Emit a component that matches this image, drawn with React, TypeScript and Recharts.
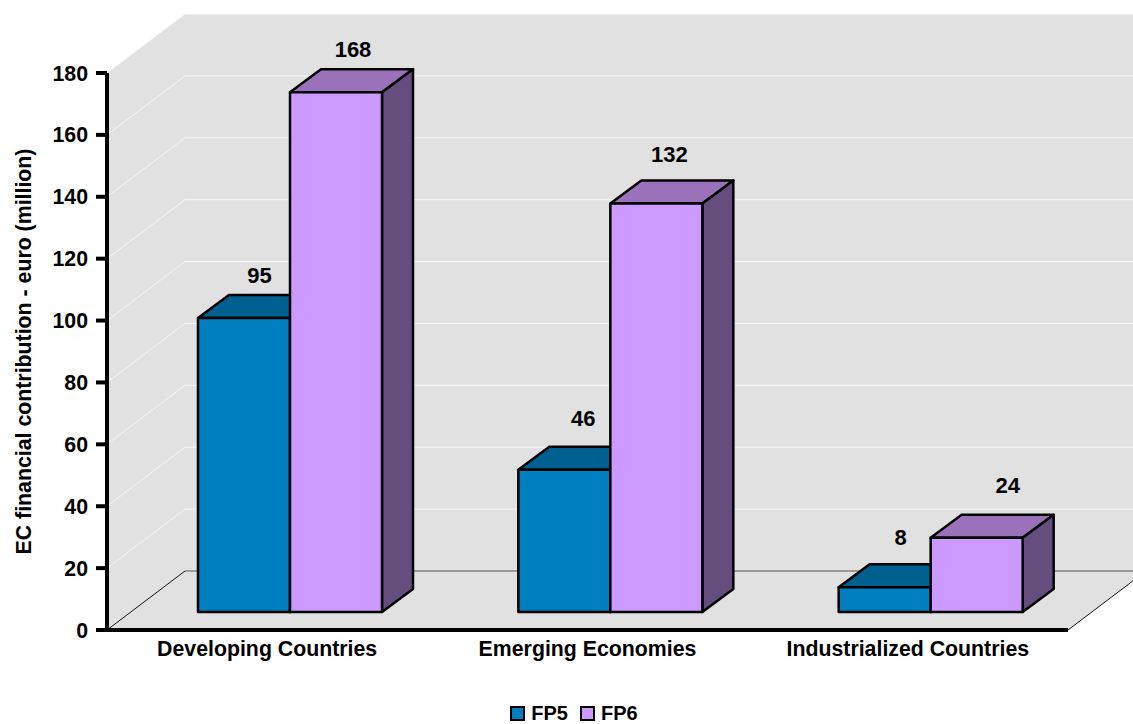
// EC financial contribution by country group, FP5 vs FP6, drawn as a pseudo-3D bar chart
import React from 'react';
import { BarChart, Bar, XAxis, YAxis, CartesianGrid, Legend, LabelList } from 'recharts';

const categories = ['Developing Countries', 'Emerging Economies', 'Industrialized Countries'];
const fp5Values = [95, 46, 8];
const fp6Values = [168, 132, 24];
const yTicks = [0, 20, 40, 60, 80, 100, 120, 140, 160, 180];

const chartData = categories.map((name, i) => ({ name, FP5: fp5Values[i], FP6: fp6Values[i] }));

const FONT = '"Liberation Sans", Arial, sans-serif';
const CHART_W = 1133;
const CHART_H = 724;
const PLOT_TOP = 73;
const PLOT_BOTTOM = 630;

// wall/floor perspective offset
const WALL_DX = 78;
const WALL_DY = -59;
// bars sit forward of the wall, slightly in from the axis
const BAR_SHIFT_X = 23;
const BAR_SHIFT_Y = -18;
const BAR_DX = 31;
const BAR_DY = -23;

const WALL = '#e1e1e1';

const textStyle = { fontFamily: FONT, fontSize: 21.3, fontWeight: 700, fill: '#000' };

// hand-placed data labels: [dx, dy] per category
const fp5LabelNudge = [[-0.5, -1], [3, -10], [0, -8]];
const fp6LabelNudge = [[1, -1], [-3, -8], [15, -11]];

const gridLine = (props: any) => {
  const { x1, x2, y1, index } = props;
  const isFloor = Math.abs(y1 - PLOT_BOTTOM) < 1;
  const backY = y1 + WALL_DY;
  const backL = x1 + WALL_DX;
  const backR = x2 + WALL_DX;
  return (
    <g key={`wall-${index}`}>
      {index === 0 && (
        <>
          <polygon
            points={`${x1},${PLOT_TOP} ${backL},${PLOT_TOP + WALL_DY} ${CHART_W},${PLOT_TOP + WALL_DY} ${CHART_W},${PLOT_BOTTOM + WALL_DY} ${backL},${PLOT_BOTTOM + WALL_DY} ${x1},${PLOT_BOTTOM}`}
            fill={WALL}
          />
          <polygon
            points={`${x1},${PLOT_BOTTOM} ${backL},${PLOT_BOTTOM + WALL_DY} ${backR},${PLOT_BOTTOM + WALL_DY} ${x2},${PLOT_BOTTOM}`}
            fill={WALL}
          />
        </>
      )}
      {isFloor ? (
        <>
          <line x1={x1} y1={y1} x2={backL} y2={backY} stroke="#111" strokeWidth={1} />
          <line x1={backL} y1={backY} x2={backR} y2={backY} stroke="#555" strokeWidth={1} />
          <line x1={x2} y1={y1} x2={backR} y2={backY} stroke="#111" strokeWidth={1} />
        </>
      ) : (
        <polyline points={`${x1},${y1} ${backL},${backY} ${backR},${backY}`} fill="none" stroke="#f7f7f7" strokeWidth={1} />
      )}
    </g>
  );
};

const Box3D = (props: any) => {
  const { x, y, width, height, front, top, side } = props;
  const l = x + BAR_SHIFT_X;
  const r = l + width;
  const t = y + BAR_SHIFT_Y;
  const b = t + height;
  const line = { stroke: '#000', strokeWidth: 2.5, strokeLinejoin: 'round' as const };
  return (
    <g>
      <polygon points={`${l},${t} ${l + BAR_DX},${t + BAR_DY} ${r + BAR_DX},${t + BAR_DY} ${r},${t}`} fill={top} {...line} />
      <polygon points={`${r},${t} ${r + BAR_DX},${t + BAR_DY} ${r + BAR_DX},${b + BAR_DY} ${r},${b}`} fill={side} {...line} />
      <rect x={l} y={t} width={width} height={height} fill={front} {...line} />
    </g>
  );
};

const valueLabel = (nudge: number[][]) => (props: any) => {
  const { x, y, width, value, index } = props;
  const [dx, dy] = nudge[index];
  return (
    <text
      x={x + width / 2 + BAR_SHIFT_X + 16 + dx}
      y={y + BAR_SHIFT_Y - 34 + dy}
      textAnchor="middle"
      {...textStyle}
      fontSize={22}
    >
      {value}
    </text>
  );
};

const legendItems = [
  { name: 'FP5', color: '#0080c0' },
  { name: 'FP6', color: '#cc99ff' },
];

const LegendRow = () => (
  <div
    style={{
      display: 'flex',
      justifyContent: 'center',
      alignItems: 'center',
      gap: 12,
      height: 44,
      paddingTop: 22,
      boxSizing: 'border-box',
      paddingLeft: 15,
      fontFamily: FONT,
      fontSize: 20,
      fontWeight: 700,
      color: '#000',
    }}
  >
    {legendItems.map(item => (
      <span key={item.name} style={{ display: 'flex', alignItems: 'center', gap: 6 }}>
        <span style={{ width: 11, height: 11, background: item.color, border: '2px solid #000', display: 'inline-block' }} />
        {item.name}
      </span>
    ))}
  </div>
);

export default function App() {
  return (
    <div style={{ position: 'absolute', left: 0, top: 0 }}>
      <BarChart
        width={CHART_W}
        height={CHART_H}
        data={chartData}
        margin={{ top: PLOT_TOP, right: 65, bottom: 0, left: 0 }}
        barGap={0}
        barCategoryGap={68}
      >
        <CartesianGrid horizontal={gridLine} vertical={false} />
        <XAxis
          dataKey="name"
          height={50}
          interval={0}
          tickLine={false}
          tickMargin={5}
          axisLine={{ stroke: '#000', strokeWidth: 4 }}
          tick={textStyle}
        />
        <YAxis
          width={107}
          domain={[0, 180]}
          ticks={yTicks}
          interval={0}
          tickSize={11}
          tickMargin={8}
          axisLine={{ stroke: '#000', strokeWidth: 4 }}
          tickLine={{ stroke: '#000', strokeWidth: 4 }}
          tick={textStyle}
          label={{
            value: 'EC financial contribution - euro (million)',
            angle: -90,
            position: 'insideLeft',
            offset: 23,
            style: { ...textStyle, fontSize: 21.3, textAnchor: 'middle' },
          }}
        />
        <Legend height={44} content={<LegendRow />} wrapperStyle={{ left: 0, width: CHART_W }} />
        <Bar
          dataKey="FP5"
          isAnimationActive={false}
          shape={(p: any) => <Box3D {...p} front="#0080c0" top="#006090" side="#004d73" />}
        >
          <LabelList dataKey="FP5" content={valueLabel(fp5LabelNudge)} />
        </Bar>
        <Bar
          dataKey="FP6"
          isAnimationActive={false}
          shape={(p: any) => <Box3D {...p} front="#cc99ff" top="#9c71bc" side="#654e7e" />}
        >
          <LabelList dataKey="FP6" content={valueLabel(fp6LabelNudge)} />
        </Bar>
      </BarChart>
    </div>
  );
}
